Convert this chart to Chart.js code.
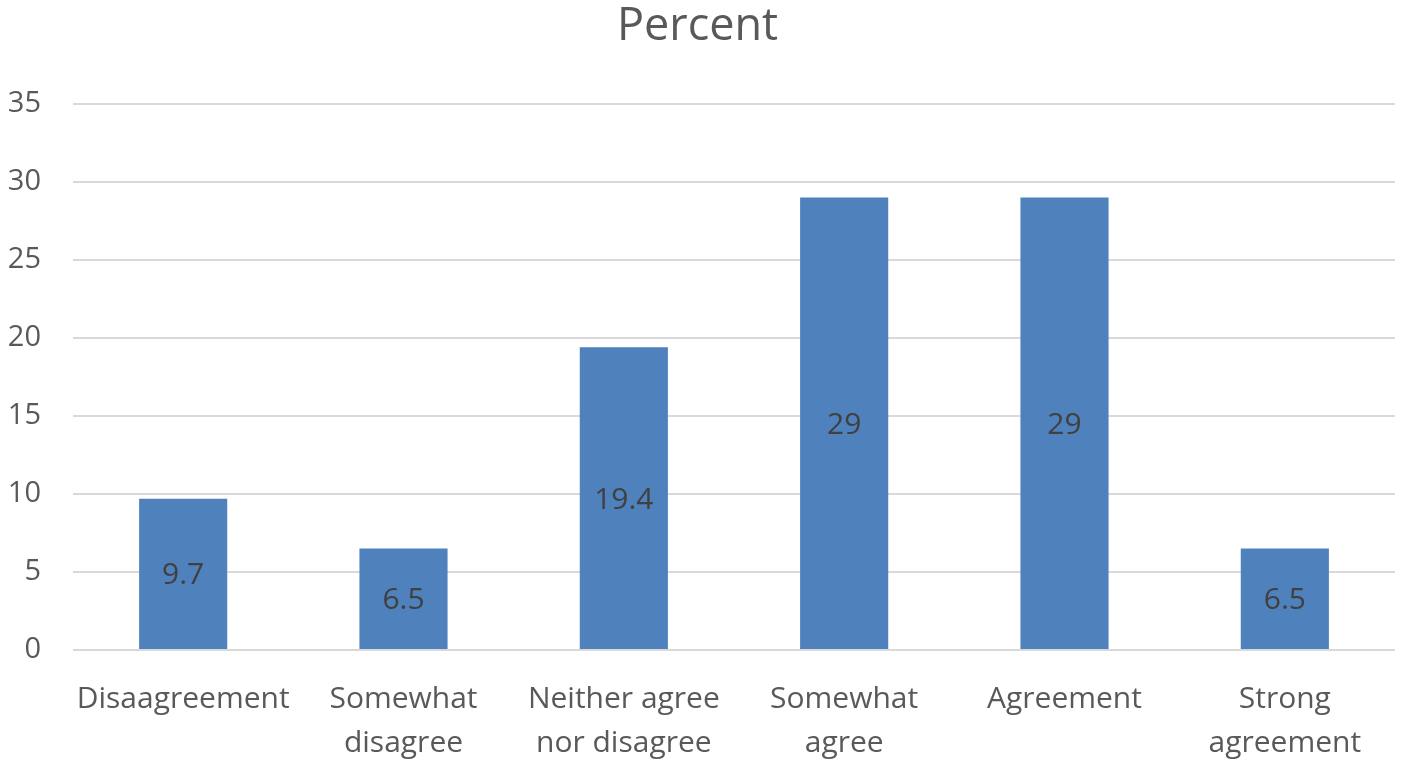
<!DOCTYPE html>
<html lang="en">
<head>
  <meta charset="UTF-8" />
  <title>Percent</title>
  <script src="https://cdn.jsdelivr.net/npm/chart.js"></script>
  <style>
    html, body { margin: 0; padding: 0; background: #fff; }
    #wrap { width: 1402px; height: 764px; }
  </style>
</head>
<body>
  <div id="wrap"><canvas id="percentChart"></canvas></div>

  <script>
    // data
    const categories = [
      'Disaagreement',
      ['Somewhat', 'disagree'],
      ['Neither agree', 'nor disagree'],
      ['Somewhat', 'agree'],
      'Agreement',
      ['Strong', 'agreement']
    ];
    const percentValues = [9.7, 6.5, 19.4, 29, 29, 6.5];
    const yTicks = [0, 5, 10, 15, 20, 25, 30, 35];

    const fontName = '"Open Sans", sans-serif';
    const grey = '#595959';

    // labels in the middle of each bar
    const barLabels = {
      id: 'barLabels',
      afterDatasetsDraw(chart) {
        const c = chart.ctx;
        const meta = chart.getDatasetMeta(0);
        c.save();
        c.font = '30px ' + fontName;
        c.fillStyle = '#404040';
        c.textAlign = 'center';
        c.textBaseline = 'middle';
        meta.data.forEach((bar, i) => {
          const mid = (bar.y + bar.base) / 2;
          c.fillText(String(percentValues[i]), bar.x, mid + 2);
        });
        c.restore();
      }
    };

    const ctx = document.getElementById('percentChart').getContext('2d');
    new Chart(ctx, {
      type: 'bar',
      data: {
        labels: categories,
        datasets: [{
          label: 'Percent',
          data: percentValues,
          backgroundColor: '#4F81BD',
          categoryPercentage: 1,
          barPercentage: 0.4
        }]
      },
      options: {
        responsive: true,
        maintainAspectRatio: false,
        animation: false,
        layout: { padding: { top: 0, right: 7, bottom: 0, left: 0 } },
        plugins: {
          legend: { display: false },
          tooltip: { enabled: false },
          title: {
            display: true,
            text: 'Percent',
            color: grey,
            font: { family: fontName, size: 45, weight: 'normal', lineHeight: 1.2 },
            padding: { top: 0, bottom: 50 }
          }
        },
        scales: {
          x: {
            afterFit(scale) { scale.height = 114; },
            grid: { display: false },
            border: { display: false },
            ticks: {
              color: grey,
              font: { family: fontName, size: 30, lineHeight: 1.47 },
              maxRotation: 0,
              autoSkip: false,
              padding: 19
            }
          },
          y: {
            min: 0,
            max: 35,
            afterFit(scale) { scale.width = 73; },
            afterBuildTicks(scale) { scale.ticks = yTicks.map(v => ({ value: v })); },
            grid: { color: '#d9d9d9', lineWidth: 2, drawTicks: false },
            border: { display: false },
            ticks: {
              color: grey,
              font: { family: fontName, size: 29 },
              padding: 32
            }
          }
        }
      },
      plugins: [barLabels]
    });
  </script>
</body>
</html>
